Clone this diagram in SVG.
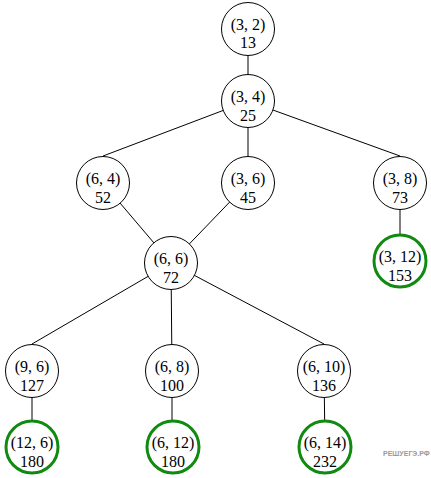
<svg xmlns="http://www.w3.org/2000/svg" width="431" height="478" viewBox="0 0 431 478">
<style>
.n circle{fill:#fff;stroke:#000;stroke-width:1}
.g circle{fill:#fff;stroke:#108a10;stroke-width:3}
text{font-family:"Liberation Serif","Times New Roman",serif;font-size:16px;fill:#000;text-anchor:middle}
.e line{stroke:#000;stroke-width:1}
.wm{font-family:"Liberation Sans","DejaVu Sans",sans-serif;font-size:7px;font-weight:bold;fill:#9a9a9a;text-anchor:start}
</style>
<rect width="431" height="478" fill="#fff"/>
<g id="edges" class="e">
<line x1="248" y1="29" x2="248" y2="101"/>
<line x1="248" y1="101" x2="103" y2="156"/>
<line x1="248" y1="101" x2="248" y2="183"/>
<line x1="248" y1="101" x2="400" y2="156"/>
<line x1="400" y1="183" x2="400" y2="261"/>
<line x1="103" y1="183" x2="171" y2="263"/>
<line x1="248" y1="183" x2="171" y2="263"/>
<line x1="171" y1="263" x2="32" y2="344"/>
<line x1="171" y1="263" x2="172" y2="371"/>
<line x1="171" y1="263" x2="324" y2="344"/>
<line x1="32" y1="371" x2="32" y2="447"/>
<line x1="172" y1="371" x2="172" y2="447"/>
<line x1="324" y1="371" x2="325" y2="447"/>
</g>
<g id="n32" class="n"><circle cx="248" cy="29" r="26.5"/><text x="248" y="30">(3, 2)</text><text x="248" y="48">13</text></g>
<g id="n34" class="n"><circle cx="248" cy="101" r="26.5"/><text x="248" y="102">(3, 4)</text><text x="248" y="121">25</text></g>
<g id="n64" class="n"><circle cx="103" cy="183" r="26.5"/><text x="103" y="184">(6, 4)</text><text x="103" y="203">52</text></g>
<g id="n36" class="n"><circle cx="248" cy="183" r="26.5"/><text x="248" y="184">(3, 6)</text><text x="248" y="203">45</text></g>
<g id="n38" class="n"><circle cx="400" cy="183" r="26.5"/><text x="400" y="184">(3, 8)</text><text x="400" y="203">73</text></g>
<g id="n312" class="g"><circle cx="400" cy="261" r="26"/><text x="400" y="262">(3, 12)</text><text x="400" y="281">153</text></g>
<g id="n66" class="n"><circle cx="171" cy="263" r="26.5"/><text x="171" y="264">(6, 6)</text><text x="171" y="283">72</text></g>
<g id="n96" class="n"><circle cx="32" cy="371" r="26.5"/><text x="32" y="372">(9, 6)</text><text x="32" y="391">127</text></g>
<g id="n68" class="n"><circle cx="172" cy="371" r="26.5"/><text x="172" y="372">(6, 8)</text><text x="172" y="391">100</text></g>
<g id="n610" class="n"><circle cx="324" cy="371" r="26.5"/><text x="324" y="372">(6, 10)</text><text x="324" y="391">136</text></g>
<g id="n126" class="g"><circle cx="32" cy="447" r="26"/><text x="32" y="448">(12, 6)</text><text x="32" y="467">180</text></g>
<g id="n612" class="g"><circle cx="173" cy="447" r="26"/><text x="173" y="448">(6, 12)</text><text x="173" y="467">180</text></g>
<g id="n614" class="g"><circle cx="325" cy="447" r="26"/><text x="325" y="448">(6, 14)</text><text x="325" y="467">232</text></g>
<text class="wm" x="383" y="456">РЕШУЕГЭ.РФ</text>
</svg>
